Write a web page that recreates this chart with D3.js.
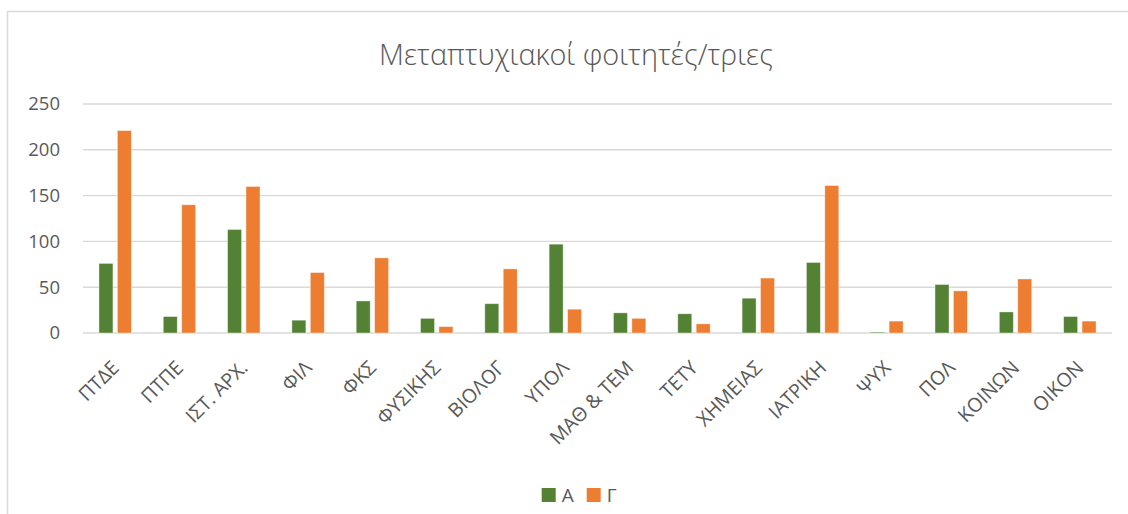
<!DOCTYPE html>
<html>
<head>
<meta charset="utf-8">
<script src="https://cdn.jsdelivr.net/npm/d3@7"></script>
<style>
  html, body { margin: 0; padding: 0; background: #fff; }
  svg { display: block; font-family: "Open Sans", "Noto Sans", sans-serif; }
</style>
</head>
<body>
<svg id="chart" width="1128" height="514"></svg>
<script>
const title = "Μεταπτυχιακοί φοιτητές/τριες";
const categories = ["ΠΤΔΕ","ΠΤΠΕ","ΙΣΤ. ΑΡΧ.","ΦΙΛ","ΦΚΣ","ΦΥΣΙΚΗΣ","ΒΙΟΛΟΓ","ΥΠΟΛ","ΜΑΘ & ΤΕΜ","ΤΕΤΥ","ΧΗΜΕΙΑΣ","ΙΑΤΡΙΚΗ","ΨΥΧ","ΠΟΛ","ΚΟΙΝΩΝ","ΟΙΚΟΝ"];
const seriesNames = ["Α","Γ"];
const valuesA = [76, 18, 113, 14, 35, 16, 32, 97, 22, 21, 38, 77, 1, 53, 23, 18];
const valuesG = [221, 140, 160, 66, 82, 7, 70, 26, 16, 10, 60, 161, 13, 46, 59, 13];
const yTicks = [0, 50, 100, 150, 200, 250];
const colors = ["#548235", "#ED7D31"];

const svg = d3.select("#chart");
const textColor = "#595959";

// chart border (top and left visible)
svg.append("path")
  .attr("d", "M7.5,514 L7.5,11.5 L1128,11.5")
  .attr("fill", "none").attr("stroke", "#d9d9d9").attr("stroke-width", 1.5);

// title
const t = svg.append("text")
  .attr("x", 576).attr("y", 65)
  .attr("text-anchor", "middle")
  .attr("fill", textColor)
  .attr("font-size", 28)
  .attr("font-weight", 300)
  .text(title);
const tw = t.node().getComputedTextLength();
t.attr("font-size", 28 * 394 / tw);

const plotLeft = 83, plotRight = 1112, plotTop = 104, plotBottom = 333;

const y = d3.scaleLinear().domain([0, 250]).range([plotBottom, plotTop]);
const x0 = d3.scaleBand().domain(categories).range([plotLeft, plotRight]).padding(0);
const groupW = x0.bandwidth() * 0.504;
const x1 = d3.scaleBand().domain(seriesNames).range([-groupW / 2, groupW / 2]).paddingInner(0.24);

// gridlines
svg.append("g").selectAll("line").data(yTicks).join("line")
  .attr("x1", plotLeft).attr("x2", plotRight)
  .attr("y1", d => y(d)).attr("y2", d => y(d))
  .attr("stroke", "#d9d9d9").attr("stroke-width", 1.4);

// y axis labels
const yAxis = d3.axisLeft(y).tickValues(yTicks).tickSize(0).tickPadding(0);
const ya = svg.append("g").attr("transform", "translate(60,0)").call(yAxis);
ya.select(".domain").remove();
ya.selectAll("text").attr("font-size", 18.5).attr("fill", textColor)
  .attr("font-family", "'Open Sans', 'Noto Sans', sans-serif");

// bars
const data = categories.map((c, i) => ({ c, vals: [valuesA[i], valuesG[i]] }));
const groups = svg.append("g").selectAll("g").data(data).join("g")
  .attr("transform", d => `translate(${x0(d.c) + x0.bandwidth() / 2},0)`);
groups.selectAll("rect")
  .data(d => d.vals.map((v, k) => ({ s: seriesNames[k], v, k })))
  .join("rect")
  .attr("x", d => x1(d.s))
  .attr("width", x1.bandwidth())
  .attr("y", d => y(d.v))
  .attr("height", d => plotBottom - y(d.v))
  .attr("fill", d => colors[d.k])
  .attr("stroke", "#ffffff").attr("stroke-opacity", 0.5).attr("stroke-width", 0.8);

// x axis labels
const xAxis = d3.axisBottom(x0).tickSize(0).tickPadding(0);
const xa = svg.append("g").attr("transform", `translate(0,${plotBottom})`).call(xAxis);
xa.select(".domain").remove();
xa.selectAll("text")
  .attr("font-size", 19.5).attr("fill", textColor)
  .attr("font-family", "'Open Sans', 'Noto Sans', sans-serif")
  .attr("text-anchor", "end")
  .attr("dy", null).attr("y", null)
  .attr("transform", "translate(5,36) rotate(-45)");

// legend
const legend = svg.append("g");
const legendX = [541.7, 586.7];
seriesNames.forEach((s, i) => {
  legend.append("rect").attr("x", legendX[i]).attr("y", 488).attr("width", 14).attr("height", 14).attr("fill", colors[i]);
  legend.append("text").attr("x", legendX[i] + 20).attr("y", 502)
    .attr("font-size", 19).attr("fill", textColor).text(s);
});
</script>
</body>
</html>
